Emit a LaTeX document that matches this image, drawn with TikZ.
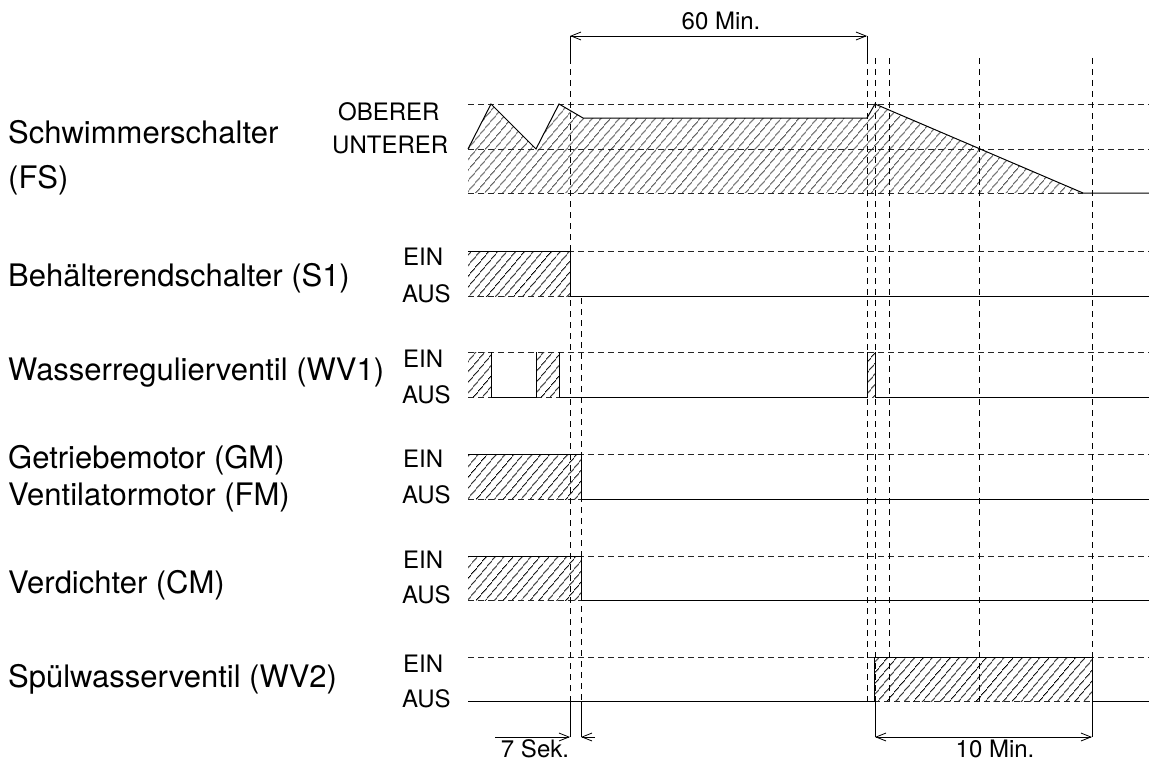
\documentclass[tikz,border=0pt]{standalone}
\usepackage{fontspec}
\setmainfont{TeX Gyre Heros}
\usetikzlibrary{patterns.meta,arrows.meta}
\begin{document}
\begin{tikzpicture}[x=1pt,y=-1pt,
  >={Straight Barb[length=10pt,width=8pt]},
  sig/.style={line width=1pt, black},
  gridline/.style={line width=0.9pt, dash pattern=on 6pt off 4pt, black!85},
  vdash/.style={line width=0.9pt, dash pattern=on 6pt off 5pt, black},
  vsolid/.style={line width=0.9pt, black},
  hatch/.style={pattern={Lines[angle=50,distance=6.5pt,line width=0.8pt]}},
  biglbl/.style={font=\fontsize{31}{37}\selectfont, anchor=base west, inner sep=0pt},
  smalllbl/.style={font=\fontsize{24}{29}\selectfont, anchor=base west, inner sep=0pt},
  dimlbl/.style={font=\fontsize{24}{29}\selectfont, anchor=base, inner sep=0pt},
  dimline/.style={line width=0.8pt, black}
]
\useasboundingbox[fill=white] (0,0) rectangle (1149,760);

% ---------- left labels ----------
\node[biglbl] (lfs1) at (8,143) {Schwimmerschalter};
\node[biglbl] (lfs2) at (8,188) {(FS)};
\node[biglbl] (ls1) at (8,286) {Behälterendschalter (S1)};
\node[biglbl] (lwv1) at (8,380) {Wasserregulierventil (WV1)};
\node[biglbl] (lgm) at (8,468) {Getriebemotor (GM)};
\node[biglbl] (lfm) at (8,505) {Ventilatormotor (FM)};
\node[biglbl] (lcm) at (8,593) {Verdichter (CM)};
\node[biglbl] (lwv2) at (8,687) {Spülwasserventil (WV2)};

% ---------- level labels ----------
\node[smalllbl] (ob) at (338,120) {OBERER};
\node[smalllbl] (un) at (332,153) {UNTERER};
\node[smalllbl] (e1) at (403,265) {EIN};
\node[smalllbl] (a1) at (402,302) {AUS};
\node[smalllbl] (e2) at (403,367) {EIN};
\node[smalllbl] (a2) at (402,403) {AUS};
\node[smalllbl] (e3) at (403,467) {EIN};
\node[smalllbl] (a3) at (402,503) {AUS};
\node[smalllbl] (e4) at (403,568) {EIN};
\node[smalllbl] (a4) at (402,603) {AUS};
\node[smalllbl] (e5) at (403,672) {EIN};
\node[smalllbl] (a5) at (402,707) {AUS};

% ---------- hatched areas ----------
\fill[hatch] (468,149) -- (491,104) -- (536,149) -- (559,104) -- (583,118)
  -- (867,118) -- (875,104) -- (1083,193) -- (468,193) -- cycle;
\fill[hatch] (468,251) rectangle (570,296);
\fill[hatch] (468,352) rectangle (491,397);
\fill[hatch] (536,352) rectangle (559,397);
\fill[hatch] (867,352) rectangle (875,397);
\fill[hatch] (468,454) rectangle (581,499);
\fill[hatch] (468,556) rectangle (581,600);
\fill[hatch] (874,657) rectangle (1092,701);

% ---------- dashed level lines ----------
\draw[gridline] (468,104) -- (1149,104);
\draw[gridline] (468,149) -- (1149,149);
\draw[gridline] (468,193) -- (1083,193);
\draw[gridline] (468,251) -- (1149,251);
\draw[gridline] (468,296) -- (570,296);
\draw[gridline] (468,352) -- (1149,352);
\draw[gridline] (468,397) -- (491,397);
\draw[gridline] (536,397) -- (559,397);
\draw[gridline] (468,454) -- (1149,454);
\draw[gridline] (468,499) -- (581,499);
\draw[gridline] (468,556) -- (1149,556);
\draw[gridline] (468,600) -- (581,600);
\draw[gridline] (468,657) -- (1149,657);
\draw[gridline] (874,701) -- (1092,701);

% ---------- vertical time marks ----------
\coordinate (ta) at (570,36);
\coordinate (tc) at (867,36);
\coordinate (ba) at (570,737);
\coordinate (bb) at (581,737);
\coordinate (bd) at (875,737);
\coordinate (bg) at (1092,737);

\draw[vsolid] (ta) -- (570,58);
\draw[vdash] (570,58) -- (570,701);
\draw[vsolid] (570,701) -- (ba);
\draw[vdash] (581,298) -- (581,701);
\draw[vsolid] (581,701) -- (bb);
\draw[vsolid] (tc) -- (867,58);
\draw[vdash] (867,58) -- (867,701);
\draw[vdash] (875,58) -- (875,701);
\draw[vsolid] (875,701) -- (bd);
\draw[vdash] (889,58) -- (889,701);
\draw[vdash] (979,58) -- (979,701);
\draw[vdash] (1092,58) -- (1092,657);
\draw[vsolid] (1092,701) -- (bg);

% ---------- signal lines ----------
\draw[sig] (468,149) -- (491,104) -- (536,149) -- (559,104) -- (583,118)
  -- (867,118) -- (875,104) -- (1083,193) -- (1149,193);
\draw[sig] (468,251) -- (570,251) -- (570,296) -- (1149,296);
\draw[sig] (491,352) -- (491,397) -- (536,397) -- (536,352);
\draw[sig] (559,352) -- (559,397) -- (867,397) -- (867,352);
\draw[sig] (875,352) -- (875,397) -- (1149,397);
\draw[sig] (468,454) -- (581,454) -- (581,499) -- (1149,499);
\draw[sig] (468,556) -- (581,556) -- (581,600) -- (1149,600);
\draw[sig] (468,701) -- (874,701) -- (874,657) -- (1092,657) -- (1092,701) -- (1149,701);

% ---------- dimensions ----------
\draw[dimline,<->] (ta) -- (tc);
\node[dimlbl] (d60) at (721,30) {60 Min.};

\coordinate (s7l) at (495,737);
\coordinate (s7r) at (595,737);
\draw[dimline,->] (s7l) -- (ba);
\draw[dimline,->] (s7r) -- (bb);
\node[dimlbl] (d7) at (535,757) {7 Sek.};

\draw[dimline,<->] (bd) -- (bg);
\node[dimlbl] (d10) at (995,757) {10 Min.};
\end{tikzpicture}
\end{document}
